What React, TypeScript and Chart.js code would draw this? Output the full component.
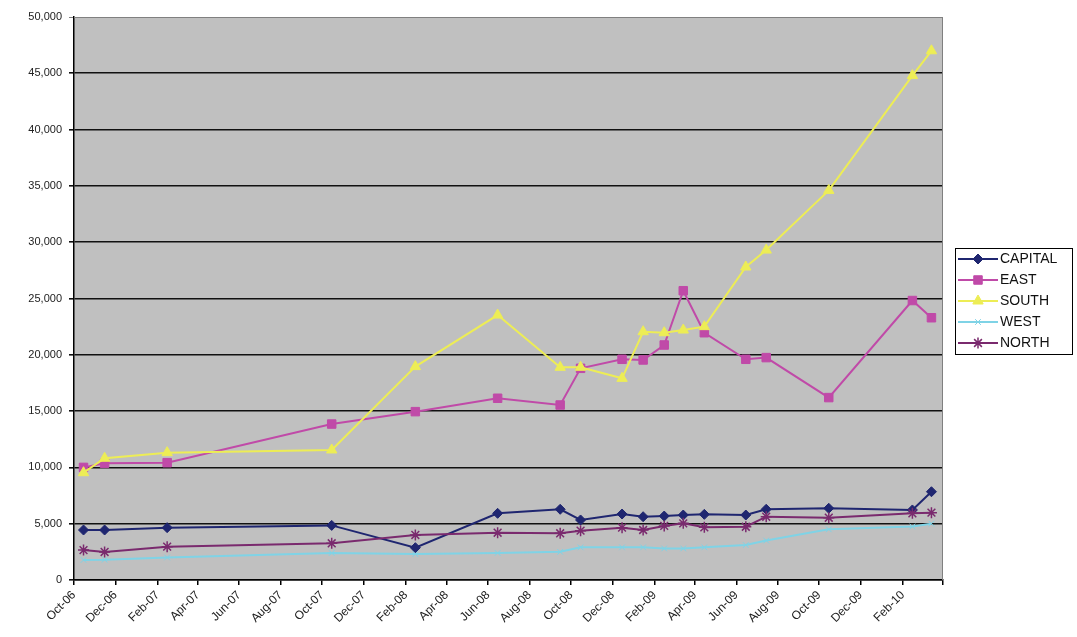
import React, { useEffect, useRef } from 'react';
import { Chart, registerables } from 'chart.js';
import { drawPoint } from 'chart.js/helpers';

Chart.register(...registerables);

// ---- data ----
const dates = [
  '2006-10-15', '2006-11-15', '2007-02-15', '2007-10-15', '2008-02-15', '2008-06-15',
  '2008-09-15', '2008-10-15', '2008-12-15', '2009-01-15', '2009-02-15', '2009-03-15',
  '2009-04-15', '2009-06-15', '2009-07-15', '2009-10-15', '2010-02-15', '2010-03-15',
];
const capital = [4440, 4440, 4650, 4850, 2870, 5920, 6280, 5330, 5860, 5620, 5680, 5770, 5830, 5770, 6280, 6370, 6220, 7840];
const east = [10000, 10360, 10420, 13850, 14950, 16140, 15540, 18800, 19600, 19540, 20870, 25690, 21960, 19600, 19750, 16200, 24820, 23290];
const south = [9530, 10810, 11310, 11550, 18950, 23530, 18890, 18890, 17910, 22050, 21960, 22200, 22500, 27800, 29300, 34600, 44800, 47000];
const west = [1780, 1800, 2000, 2400, 2300, 2400, 2500, 2900, 2900, 2900, 2800, 2800, 2900, 3100, 3500, 4500, 4750, 5000];
const north = [2660, 2490, 2960, 3260, 4000, 4200, 4150, 4380, 4650, 4440, 4800, 5030, 4680, 4730, 5620, 5530, 5920, 5980];

const seriesNames = ['CAPITAL', 'EAST', 'SOUTH', 'WEST', 'NORTH'];
const xTickLabels = [
  'Oct-06', 'Dec-06', 'Feb-07', 'Apr-07', 'Jun-07', 'Aug-07', 'Oct-07', 'Dec-07', 'Feb-08', 'Apr-08',
  'Jun-08', 'Aug-08', 'Oct-08', 'Dec-08', 'Feb-09', 'Apr-09', 'Jun-09', 'Aug-09', 'Oct-09', 'Dec-09', 'Feb-10',
];
const axisStart = '2006-10-01';
const axisEnd = '2010-04-01';
const yMax = 50000;
const yStep = 5000;

// ---- helpers ----
const toDays = (s: string) => {
  const [y, m, d] = s.split('-').map(Number);
  const [y0, m0, d0] = axisStart.split('-').map(Number);
  return (Date.UTC(y, m - 1, d) - Date.UTC(y0, m0 - 1, d0)) / 864e5;
};
const monthTickDays = () => {
  const [y0, m0] = axisStart.split('-').map(Number);
  const out: number[] = [];
  const endDays = toDays(axisEnd);
  for (let k = 0; ; k += 2) {
    const t = (Date.UTC(y0, m0 - 1 + k, 1) - Date.UTC(y0, m0 - 1, 1)) / 864e5;
    if (t > endDays + 0.5) break;
    out.push(t);
  }
  return out;
};

const styles = [
  { color: '#1f2670', point: 'rectRot', radius: 5, bw: 1 },
  { color: '#c04aa8', point: 'rect', radius: 6, bw: 1 },
  { color: '#eded55', point: 'triangle', radius: 6, bw: 1 },
  { color: '#7fd3e6', point: 'crossRot', radius: 4, bw: 1 },
  { color: '#7a2a6e', point: 'star', radius: 5.5, bw: 1.5 },
];

const FONT = '"Liberation Sans", Arial, sans-serif';

export default function App() {
  const ref = useRef<HTMLCanvasElement | null>(null);

  useEffect(() => {
    document.body.style.margin = '0';
    const canvas = ref.current;
    if (!canvas) return;
    const values = [capital, east, south, west, north];
    const xs = dates.map(toDays);
    const ticks = monthTickDays();

    const plotBg = {
      id: 'plotBg',
      beforeDraw(chart: any) {
        const { ctx, chartArea: a } = chart;
        ctx.save();
        ctx.fillStyle = '#c0c0c0';
        ctx.fillRect(a.left, a.top, a.right - a.left, a.bottom - a.top);
        ctx.restore();
      },
      beforeDatasetsDraw(chart: any) {
        const { ctx, chartArea: a } = chart;
        ctx.save();
        ctx.strokeStyle = '#808080';
        ctx.lineWidth = 1;
        ctx.beginPath();
        ctx.moveTo(a.left, a.top + 0.5);
        ctx.lineTo(a.right - 0.5, a.top + 0.5);
        ctx.lineTo(a.right - 0.5, a.bottom);
        ctx.stroke();
        ctx.restore();
      },
    };

    const legendPlugin = {
      id: 'xlLegend',
      afterDraw(chart: any) {
        const { ctx, chartArea: a } = chart;
        const left = a.right + 12;
        const w = 117;
        const rowH = 21;
        const h = rowH * seriesNames.length + 1;
        const cy = (a.top + a.bottom) / 2 + 2;
        const top = Math.round(cy - h / 2) + 0.5;
        ctx.save();
        ctx.fillStyle = '#ffffff';
        ctx.fillRect(left, top, w, h);
        ctx.strokeStyle = '#000';
        ctx.lineWidth = 1;
        ctx.strokeRect(Math.round(left) + 0.5, top, w, h);
        ctx.font = `14px ${FONT}`;
        ctx.textBaseline = 'middle';
        ctx.textAlign = 'left';
        seriesNames.forEach((name, i) => {
          const st = styles[i];
          const y = top + 10.5 + i * rowH;
          ctx.strokeStyle = st.color;
          ctx.lineWidth = 2;
          ctx.beginPath();
          ctx.moveTo(left + 3, y);
          ctx.lineTo(left + 43, y);
          ctx.stroke();
          ctx.fillStyle = st.color;
          ctx.lineWidth = st.bw;
          drawPoint(ctx, { pointStyle: st.point, radius: st.radius, rotation: 0, borderWidth: st.bw } as any, left + 23, y);
          ctx.fillStyle = '#111';
          ctx.fillText(name, left + 45, y + 0.5);
        });
        ctx.restore();
      },
    };

    const chart = new Chart(canvas, {
      type: 'line',
      data: {
        datasets: seriesNames.map((name, i) => ({
          label: name,
          data: xs.map((x, j) => ({ x, y: values[i][j] })),
          borderColor: styles[i].color,
          backgroundColor: styles[i].color,
          pointBackgroundColor: styles[i].color,
          pointBorderColor: styles[i].color,
          borderWidth: 2,
          pointStyle: styles[i].point as any,
          pointRadius: styles[i].radius,
          pointBorderWidth: styles[i].bw,
          tension: 0,
          order: seriesNames.length - i,
        })),
      },
      options: {
        responsive: false,
        animation: false,
        devicePixelRatio: 1,
        layout: { padding: { top: 17, right: 134, left: 0, bottom: 0 } },
        plugins: { legend: { display: false }, tooltip: { enabled: false } },
        scales: {
          x: {
            type: 'linear',
            min: 0,
            max: toDays(axisEnd),
            afterBuildTicks: (scale: any) => {
              scale.ticks = ticks.map((v) => ({ value: v }));
            },
            afterFit: (scale: any) => {
              scale.height = 57;
            },
            ticks: {
              autoSkip: false,
              maxRotation: 45,
              minRotation: 45,
              padding: 3,
              color: '#222',
              font: { family: FONT, size: 12 },
              callback: (_v: any, idx: number) => xTickLabels[idx] ?? '',
            },
            grid: {
              drawOnChartArea: false,
              drawTicks: true,
              tickLength: 5,
              color: '#000',
              lineWidth: 1.5,
            },
            border: { display: true, color: '#000', width: 1.5 },
          },
          y: {
            type: 'linear',
            min: 0,
            max: yMax,
            afterFit: (scale: any) => {
              scale.width = 74;
            },
            ticks: {
              stepSize: yStep,
              padding: 7,
              color: '#222',
              font: { family: FONT, size: 11 },
              callback: (v: any) => Number(v).toLocaleString('en-US'),
            },
            grid: {
              drawTicks: true,
              tickLength: 5,
              color: (c: any) => (c.tick && c.tick.value === yMax ? '#808080' : '#111'),
              lineWidth: (c: any) => (c.tick && c.tick.value === yMax ? 1 : 1.6),
            },
            border: { display: true, color: '#000', width: 1.5 },
          },
        },
      },
      plugins: [plotBg, legendPlugin],
    });

    return () => chart.destroy();
  }, []);

  return (
    <div style={{ width: 1077, height: 637, background: '#fff' }}>
      <canvas ref={ref} width={1077} height={637} style={{ display: 'block', width: 1077, height: 637 }} />
    </div>
  );
}
